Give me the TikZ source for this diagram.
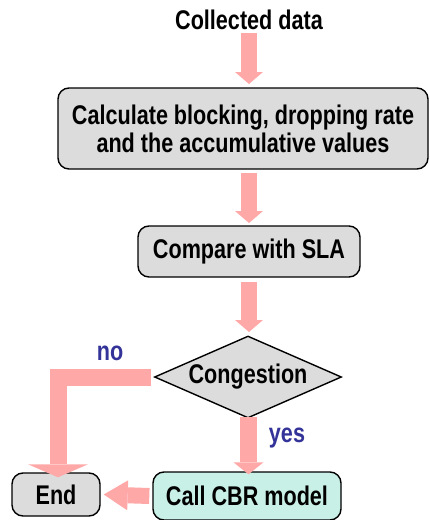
\documentclass[tikz,border=0pt]{standalone}
\usepackage{fontspec}
\setmainfont{Liberation Sans}[FakeStretch=0.8]
\usetikzlibrary{shapes.geometric,arrows.meta}
\definecolor{arrowpink}{HTML}{FFA8A8}
\definecolor{boxgray}{HTML}{DCDCDC}
\definecolor{boxmint}{HTML}{C8F0E6}
\definecolor{lblblue}{HTML}{333399}
\tikzset{
  txt/.style={font=\fontsize{27}{28}\selectfont\bfseries, inner sep=0pt},
  procbox/.style={txt, draw=black, line width=1.4pt, rounded corners=11pt, fill=boxgray, align=center},
  decbox/.style={txt, draw=black, line width=1.4pt, diamond, fill=boxgray, aspect=2.28, inner sep=0pt},
  blockarrow/.style={draw=arrowpink, line width=16pt, line join=miter,
     -{Triangle[width=28pt,length=12pt,line width=0pt,fill=arrowpink]}},
  lbl/.style={txt, text=lblblue}
}
\begin{document}
\begin{tikzpicture}[x=1pt,y=-1pt]
\useasboundingbox (0,0) rectangle (430,520);
\node[txt] (src) at (249,20) {Collected data};
\node[procbox, minimum width=370pt, minimum height=81pt] (calc) at (243,128.5)
  {Calculate blocking, dropping rate\\and the accumulative values};
\node[procbox, minimum width=222pt, minimum height=51pt] (cmp) at (249,251.5) {Compare with SLA};
\node[decbox, minimum width=187pt, minimum height=82pt] (cong) at (248,377) {Congestion};
\node[procbox, minimum width=88pt, minimum height=43pt] (end) at (56,494.5) {End};
\node[procbox, fill=boxmint, minimum width=188pt, minimum height=48pt] (cbr) at (247,496) {Call CBR model};
\coordinate (a1s) at (249,33);
\coordinate (a2s) at (249,173);
\coordinate (a3s) at (249,282);
\draw[blockarrow] (a1s) -- (249,84);
\draw[blockarrow] (a2s) -- (249,223);
\draw[blockarrow] (a3s) -- (249,332);
\draw[blockarrow, line width=17pt, -{Triangle[width=30pt,length=12pt,line width=0pt,fill=arrowpink]}]
  ([yshift=2pt]cong.south -| 248.5,0) -- ([yshift=-3pt]cbr.north -| 248.5,0);
\draw[blockarrow, line width=17pt, -{Triangle[width=60pt,length=13pt,line width=0pt,fill=arrowpink]}]
  ([xshift=-3pt]cong.west) -| ([yshift=-5pt]end.north -| 58,0);
\draw[blockarrow, -{Triangle[width=30pt,length=24pt,line width=0pt,fill=arrowpink]}]
  ([xshift=-3pt]cbr.west) -- ([xshift=3pt]end.east);
\node[lbl] (no) at (110,353) {no};
\node[lbl] (yes) at (287,438) {yes};
\end{tikzpicture}
\end{document}
